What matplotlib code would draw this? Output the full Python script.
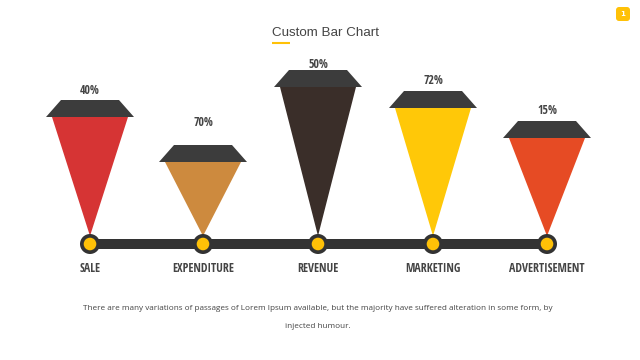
import matplotlib
matplotlib.use("Agg")
import matplotlib.pyplot as plt
from matplotlib.patches import Polygon, Circle, FancyBboxPatch

# ---- data ----
categories = ["SALE", "EXPENDITURE", "REVENUE", "MARKETING", "ADVERTISEMENT"]
percent_labels = ["40%", "70%", "50%", "72%", "15%"]
bar_heights = [144, 99, 174, 153, 123]          # visual height of each funnel
colors = ["#D63434", "#CD8A3E", "#3A2E29", "#FFC808", "#E64B24"]
title = "Custom Bar Chart"
caption = ("There are many variations of passages of Lorem Ipsum available, but the majority have suffered alteration in some form, by",
           "injected humour.")

# ---- layout / style ----
W, H = 640, 360
x_pos = [90, 203, 318, 433, 547]
base_y = H - 244
cap_h = 17
cap_bot_w = 88
cap_top_w = 58
tri_w = 76
label_gap = [10, 22, 5, 10, 11]
dark = "#3C3C3C"
text_col = "#444444"
yellow = "#FFC107"
narrow = ["Open Sans Condensed", "Roboto Condensed", "Liberation Sans"]

fig = plt.figure(figsize=(6.4, 3.6), dpi=100)
ax = fig.add_axes([0, 0, 1, 1])
ax.set_xlim(0, W)
ax.set_ylim(0, H)
ax.axis("off")

# baseline
ax.plot([x_pos[0], x_pos[-1]], [base_y, base_y], color="#333333", lw=7.2,
        solid_capstyle="butt", zorder=2)

for i, (x, h, c) in enumerate(zip(x_pos, bar_heights, colors)):
    top = base_y + h
    cb = top - cap_h
    tri = Polygon([(x - tri_w / 2, cb), (x + tri_w / 2, cb), (x, base_y + 8)],
                  closed=True, facecolor=c, edgecolor="none", zorder=1)
    ax.add_patch(tri)
    cap = Polygon([(x - cap_bot_w / 2, cb), (x + cap_bot_w / 2, cb),
                   (x + cap_top_w / 2, top), (x - cap_top_w / 2, top)],
                  closed=True, facecolor=dark, edgecolor="none", zorder=3)
    ax.add_patch(cap)
    ax.text(x, top + label_gap[i], percent_labels[i], ha="center", va="center",
            fontsize=8.6, fontweight="bold", family=narrow, color=text_col)
    ax.add_patch(Circle((x, base_y), 10, facecolor="#333333", edgecolor="none", zorder=4))
    ax.add_patch(Circle((x, base_y), 6.3, facecolor=yellow, edgecolor="none", zorder=5))
    ax.text(x, H - 269, categories[i], ha="center", va="center",
            fontsize=8.6, fontweight="bold", family=narrow, color=text_col)

# title
ax.text(325, H - 33, title, ha="center", va="center", fontsize=9.6,
        family="Liberation Sans", color=text_col)
ax.plot([272, 290], [H - 43, H - 43], color=yellow, lw=1.5, solid_capstyle="butt")

# page badge
ax.add_patch(FancyBboxPatch((616, H - 21), 14, 14, boxstyle="round,pad=0,rounding_size=3",
                            facecolor=yellow, edgecolor="none"))
ax.text(623, H - 14, "1", ha="center", va="center", fontsize=5, color="white",
        fontweight="bold")

# caption
ax.text(318, H - 309, caption[0], ha="center", va="center", fontsize=5.85,
        family="Open Sans", color=text_col)
ax.text(318, H - 327, caption[1], ha="center", va="center", fontsize=5.85,
        family="Open Sans", color=text_col)

fig.savefig("out.png", dpi=100, facecolor="white")
